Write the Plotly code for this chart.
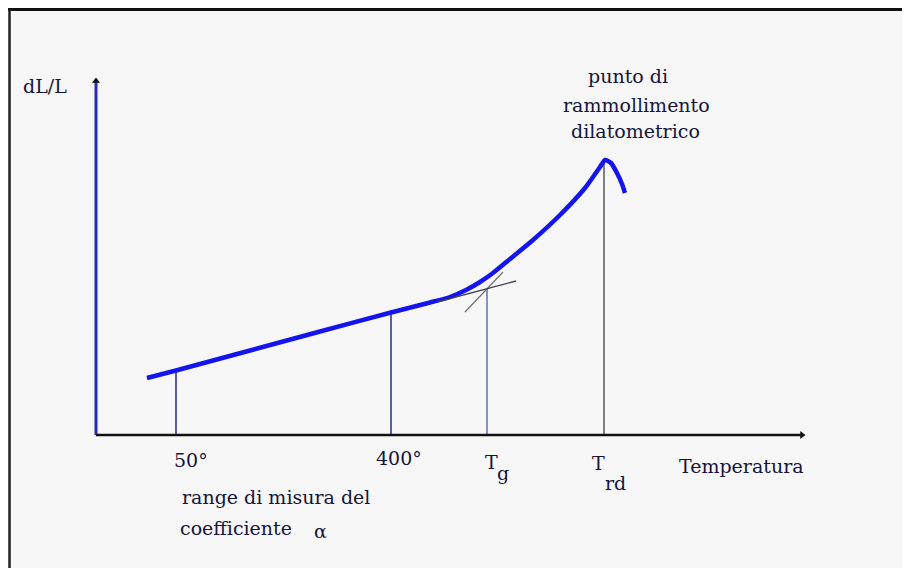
import plotly.graph_objects as go

# ---- schematic data (arbitrary units: temperature along x, dL/L along y) ----
curve_T = [51, 80, 154, 224, 295, 334, 354, 371, 384, 397, 414, 437, 464, 489, 504, 509, 515, 521, 526, 529]
curve_dLL = [57, 64.5, 84.5, 103.5, 122.5, 132.5, 138, 145.5, 153, 162, 176, 195, 220, 247, 268, 275, 272, 262, 251, 242]

mark_names = ["50°", "400°", "Tg", "Trd"]
mark_T = [80, 295, 391, 508]
mark_dLL = [64.5, 122.5, 146, 275]

tan_low_T = [341, 420]
tan_low_dLL = [133, 154]
tan_high_T = [369, 407]
tan_high_dLL = [123, 163]

axis_T_end = 709
axis_dLL_end = 357

# page body has an 8px margin; the figure starts at (8, 8)
X_RANGE = [-88, 822]
Y_RANGE = [-141, 427]

FONT = "DejaVu Serif"
TXT = "#14143c"

fig = go.Figure()

# vertical reference lines
vcolors = ["#2a2a8a", "#2a2a8a", "#6a6ac0", "#808080"]
vwidths = [1.5, 1.5, 1.5, 2]
for t, h, c, w, n in zip(mark_T, mark_dLL, vcolors, vwidths, mark_names):
    fig.add_trace(go.Scatter(x=[t, t], y=[0, h], mode="lines",
                             line=dict(color=c, width=w), name=n,
                             hoverinfo="skip"))

# steep tangent (under the curve)
fig.add_trace(go.Scatter(x=tan_high_T, y=tan_high_dLL, mode="lines",
                         line=dict(color="#707070", width=1.2), hoverinfo="skip"))

# main curve
fig.add_trace(go.Scatter(x=curve_T, y=curve_dLL, mode="lines",
                         line=dict(color="#1414f0", width=4.5, shape="spline", smoothing=0.6),
                         hoverinfo="skip"))

# linear-part tangent (over the curve)
fig.add_trace(go.Scatter(x=tan_low_T, y=tan_low_dLL, mode="lines",
                         line=dict(color="#404050", width=1.3), hoverinfo="skip"))

# axes
fig.add_trace(go.Scatter(x=[0, 0], y=[0, axis_dLL_end - 4], mode="lines",
                         line=dict(color="#2a2ab8", width=3), hoverinfo="skip"))
fig.add_trace(go.Scatter(x=[0, axis_T_end - 4], y=[0, 0], mode="lines",
                         line=dict(color="#111111", width=2.5), hoverinfo="skip"))
fig.add_trace(go.Scatter(x=[0], y=[axis_dLL_end - 3], mode="markers",
                         marker=dict(symbol="triangle-up", size=7, color="#111111"),
                         hoverinfo="skip"))
fig.add_trace(go.Scatter(x=[axis_T_end - 3], y=[0], mode="markers",
                         marker=dict(symbol="triangle-right", size=7, color="#111111"),
                         hoverinfo="skip"))

def label(x, y, text, size=19, xanchor="center", color=TXT):
    fig.add_annotation(x=x, y=y, text=text, showarrow=False, xanchor=xanchor,
                       yanchor="middle", font=dict(family=FONT, size=size, color=color))

label(-51, 349, "dL/L")
label(532, 359, "punto di")
label(540, 330, "rammollimento")
label(539, 304, "dilatometrico")
label(95, -25, "50°")
label(303, -23, "400°")
label(387, -27, "T", xanchor="left")
label(399, -38, "g", xanchor="left")
label(494, -28, "T", xanchor="left")
label(507, -48, "rd", xanchor="left")
label(645, -31, "Temperatura")
label(84, -62, "range di misura del", xanchor="left")
label(82, -93, "coefficiente", xanchor="left")
label(224, -96, "α")

# frame and inner background (figure pixel coords shifted by the 8px page margin)
W, H = 910, 568
off = 1.5
fig.add_shape(type="rect", xref="paper", yref="paper", x0=off / W, x1=1, y0=0, y1=1 - off / H,
              fillcolor="#f7f7f7", line=dict(width=0), layer="below")
fig.add_shape(type="line", xref="paper", yref="paper", x0=0, x1=1, y0=1 - off / H, y1=1 - off / H,
              line=dict(color="#111111", width=3))
fig.add_shape(type="line", xref="paper", yref="paper", x0=off / W, x1=off / W, y0=0, y1=1 - off / H,
              line=dict(color="#222222", width=2.5))

fig.update_layout(
    width=W, height=H, margin=dict(l=0, r=0, t=0, b=0),
    paper_bgcolor="white", plot_bgcolor="rgba(0,0,0,0)",
    showlegend=False,
    xaxis=dict(range=X_RANGE, visible=False, fixedrange=True),
    yaxis=dict(range=Y_RANGE, visible=False, fixedrange=True),
)

fig.write_html("out.html")
